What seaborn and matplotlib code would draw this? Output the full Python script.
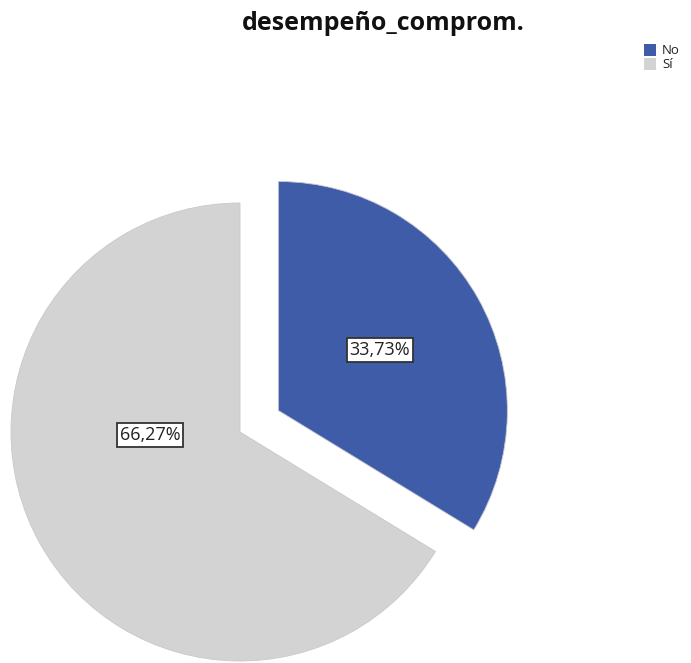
import matplotlib
matplotlib.use("Agg")
import matplotlib.pyplot as plt
import seaborn as sns
from matplotlib.patches import Rectangle

categories = ["No", "Sí"]
percentages = [33.73, 66.27]
title_text = "desempeño_comprom."

sns.set_theme(style="white")
plt.rcParams["font.family"] = ["Open Sans", "DejaVu Sans"]
colors = sns.color_palette(["#3f5ca8", "#d3d3d3"])

W, H = 691, 663
fig = plt.figure(figsize=(W / 100, H / 100), dpi=100)
ax = fig.add_axes([0, 0, 1, 1])

radius = 229
center = (240, H - 432)

wedges, _ = ax.pie(
    percentages,
    colors=colors,
    startangle=90,
    counterclock=False,
    radius=radius,
    center=center,
    explode=[44, 0],
    wedgeprops=dict(linewidth=0.6, edgecolor="#c8c8d0"),
    frame=True,
)
ax.set_xlim(0, W)
ax.set_ylim(0, H)
ax.set_aspect("equal")
ax.axis("off")

# percentage labels in boxed text
label_pos = [(380, H - 350), (150, H - 435)]
for (x, y), p in zip(label_pos, percentages):
    ax.text(x, y, f"{p:.2f}%".replace(".", ","), ha="center", va="center",
            fontsize=13, color="#222222",
            bbox=dict(boxstyle="square,pad=0.15", facecolor="white",
                      edgecolor="#333333", linewidth=1.3))

fig.text(383 / W, 1 - 24 / H, title_text, ha="center", va="center",
         fontsize=18, fontweight="bold", color="#111111")

# legend
for i, (cat, c) in enumerate(zip(categories, colors)):
    y0 = H - 56 - i * 14
    ax.add_patch(Rectangle((644, y0), 12, 12, facecolor=c, edgecolor="none"))
    ax.text(662, y0 + 6, cat, ha="left", va="center", fontsize=9.5, color="#222222")

fig.savefig("out.png", dpi=100)
